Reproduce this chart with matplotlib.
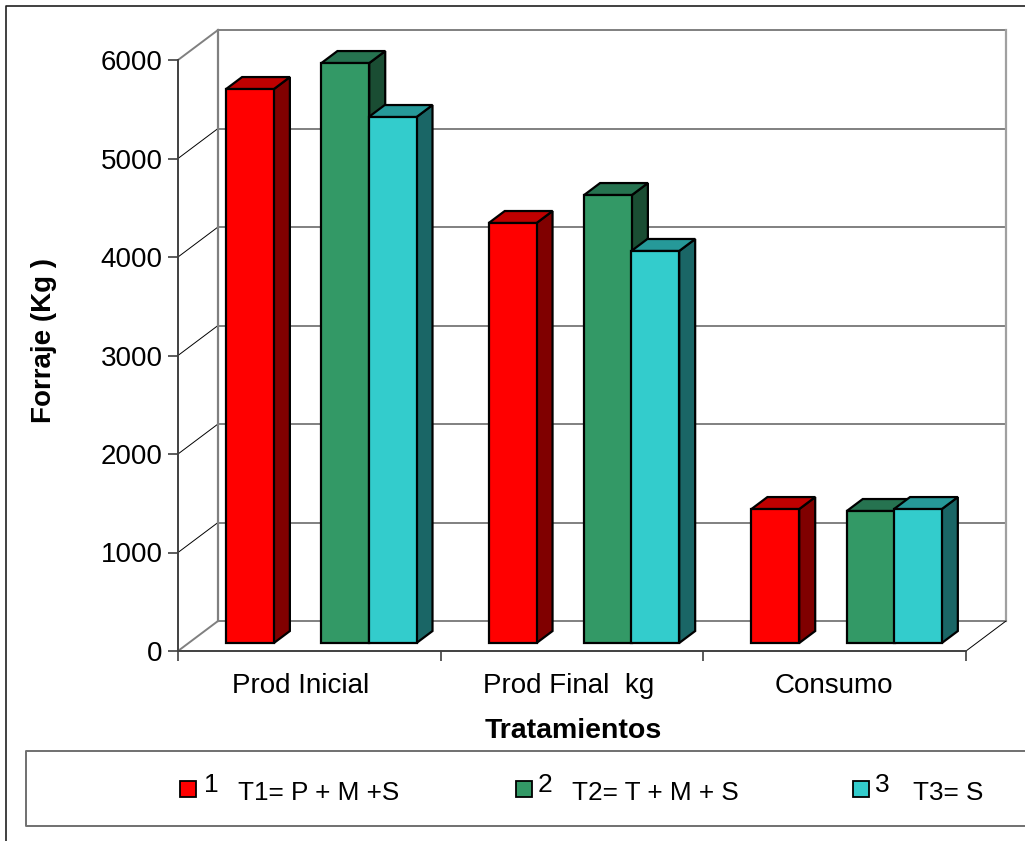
import matplotlib
matplotlib.use('Agg')
import matplotlib.pyplot as plt
from matplotlib.lines import Line2D
from matplotlib.patches import Polygon, Rectangle
from matplotlib.transforms import Affine2D

# Data for the plot
categories = ['Prod Inicial', 'Prod Final  kg', 'Consumo']
t1_values = [5624, 4264, 1360]
t2_values = [5888, 4548, 1340]
t3_values = [5340, 3980, 1360]
y_ticks = [0, 1000, 2000, 3000, 4000, 5000, 6000]
legend_numbers = ['1', '2', '3']
legend_names = ['T1= P + M +S', 'T2= T + M + S', 'T3= S']

W, H = 1025, 841
plt.rcParams['font.family'] = ['Liberation Sans', 'DejaVu Sans']

fig = plt.figure(figsize=(W / 100, H / 100), dpi=100)
ax = fig.add_axes([178 / W, 1 - 651 / H, 788 / W, 591 / H])
ax.set_xlim(0, 3)
ax.set_ylim(0, 6000)
ax.patch.set_alpha(0)

# pixel coords, origin top left, for the frame and legend
px = Affine2D().scale(1, -1).translate(0, H)

# 3D look: depth of the walls and of the bars in data units
wall_dx, wall_dy = 40 / 262.67, 30 / 0.0985
bar_dx, bar_dy = 16 / 262.67, 12 / 0.0985
floor = 81
bar_width = 0.182
offsets = [0.274, 0.637, 0.817]
edge = 1.6

series = [
    (t1_values, '#FF0000', '#BF0000', '#800000'),
    (t2_values, '#339966', '#267350', '#1A4D33'),
    (t3_values, '#33CCCC', '#269999', '#1A6666'),
]

# back wall
for v in y_ticks:
    strong = v in (0, 6000)
    ax.plot([wall_dx, 3 + wall_dx], [v + wall_dy, v + wall_dy], color='#808080',
            lw=1.4, clip_on=False, zorder=1)
    ax.plot([0, wall_dx], [v, v + wall_dy], color='#808080' if strong else 'black',
            lw=1.4 if strong else 0.7, clip_on=False, zorder=1)
ax.plot([wall_dx, wall_dx], [wall_dy, 6000 + wall_dy], color='#808080', lw=1.6, clip_on=False, zorder=1)
ax.plot([3 + wall_dx, 3 + wall_dx], [wall_dy, 6000 + wall_dy], color='#A0A0A0', lw=1.6, clip_on=False, zorder=1)
ax.plot([3, 3 + wall_dx], [0, wall_dy], color='black', lw=0.7, clip_on=False, zorder=1)

# bars, left to right so the later ones cover the earlier ones
z = 3
for i in range(len(categories)):
    for (values, front, top, side), off in zip(series, offsets):
        left = i + off - bar_width / 2
        right = left + bar_width
        y0 = floor
        y1 = floor + values[i]
        ax.add_patch(Polygon([(right, y0), (right + bar_dx, y0 + bar_dy), (right + bar_dx, y1 + bar_dy), (right, y1)],
                             facecolor=side, edgecolor='black', lw=edge, joinstyle='miter', clip_on=False, zorder=z))
        ax.add_patch(Polygon([(left, y1), (left + bar_dx, y1 + bar_dy), (right + bar_dx, y1 + bar_dy), (right, y1)],
                             facecolor=top, edgecolor='black', lw=edge, joinstyle='miter', clip_on=False, zorder=z))
        ax.bar(left, values[i], width=bar_width, bottom=floor, align='edge', color=front,
               edgecolor='black', lw=edge, clip_on=False, zorder=z + 0.5)
        z += 1

# axes
for s in ('top', 'right'):
    ax.spines[s].set_visible(False)
for s in ('left', 'bottom'):
    ax.spines[s].set_color('#404040')
    ax.spines[s].set_linewidth(1.4)
    ax.spines[s].set_zorder(2)
ax.set_yticks(y_ticks)
ax.set_xticks(range(len(categories) + 1))
ax.set_xticklabels([])
ax.set_xticks([0.468, 1.487, 2.497], labels=categories, minor=True)
ax.tick_params(axis='y', length=7.5, width=1.2, color='#404040', labelsize=20, pad=3.5)
ax.tick_params(axis='x', which='major', length=7.5, width=1.2, color='#404040')
ax.tick_params(axis='x', which='minor', length=0, labelsize=20, pad=15.5)

fig.text(44 / W, 1 - 340 / H, 'Forraje (Kg )', rotation=90, ha='center', va='center',
         fontsize=20, fontweight='bold')
fig.text(573 / W, 1 - 731 / H, 'Tratamientos', ha='center', va='center',
         fontsize=20.5, fontweight='bold')

# outer frame, open on the right and at the bottom
fig.add_artist(Line2D([6, 6, W], [H, 6, 6], color='#202020', lw=1.2, transform=px))

# legend box
fig.add_artist(Line2D([W, 26, 26, W], [751, 751, 826, 826], color='#707070', lw=1.4, transform=px))
swatch_x = [180, 516, 853]
name_x = [238, 572, 913]
number_x = [204, 538, 875]
for k, (values, front, top, side) in enumerate(series):
    fig.add_artist(Rectangle((swatch_x[k], 781), 16, 16, facecolor=front, edgecolor='black', lw=1.3, transform=px))
    fig.text(number_x[k] / W, 1 - 785 / H, legend_numbers[k], ha='left', va='center', fontsize=19)
    fig.text(name_x[k] / W, 1 - 793 / H, legend_names[k], ha='left', va='center', fontsize=18.8)

plt.savefig('out.png', dpi=100)
